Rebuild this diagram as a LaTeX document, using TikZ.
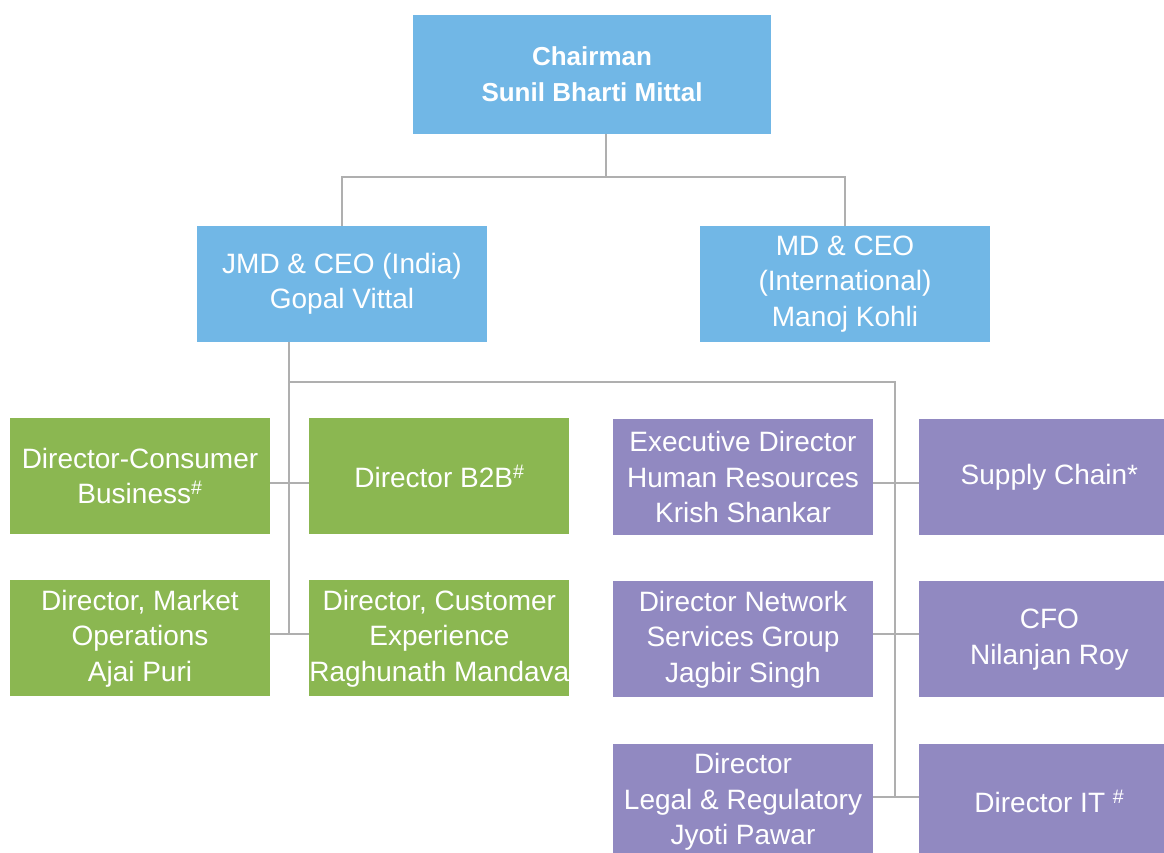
\documentclass[tikz,border=0pt]{standalone}
\usepackage{fontspec}
\setmainfont{Liberation Sans}
\usetikzlibrary{positioning}
\definecolor{topblue}{HTML}{71B7E6}
\definecolor{leafgreen}{HTML}{8BB751}
\definecolor{leafpurple}{HTML}{9189C1}
\definecolor{linkgray}{HTML}{AFAFAF}

\tikzset{
    box/.style={rectangle, inner xsep=0pt, inner ysep=2pt, align=center, text=white,
        font=\fontsize{28}{35.5}\selectfont},
    headbox/.style={box, fill=topblue, minimum width=290pt, minimum height=116pt},
    greenbox/.style={box, fill=leafgreen, minimum width=260pt, minimum height=116pt},
    purplebox/.style={box, fill=leafpurple, minimum width=260pt, minimum height=116pt},
    link/.style={draw=linkgray, line width=2pt}
}

\begin{document}
\begin{tikzpicture}[x=1pt,y=-1pt]
        \useasboundingbox (0,0) rectangle (1164,852);
        \clip (0,0) rectangle (1164,852);
        % top of the chart
        \node[headbox, minimum width=358pt, minimum height=119pt,
            font=\fontsize{26}{36}\selectfont\bfseries] (chair) at (592,74) {Chairman\\Sunil Bharti Mittal};
        \node[headbox] (jmd) at (342,284) {JMD \& CEO (India)\\Gopal Vittal};
        \node[headbox] (mdint) at (845,284) {MD \& CEO\\(International)\\Manoj Kohli};
        % green group
        \node[greenbox] (cons) at (140,476) {Director-Consumer\\Business\textsuperscript{\#}};
        \node[greenbox, right=39pt of cons] (btob) {Director B2B\textsuperscript{\#}};
        \node[greenbox, below=46pt of cons] (mktops) {Director, Market\\Operations\\Ajai Puri};
        \node[greenbox, right=39pt of mktops] (custexp) {Director, Customer\\Experience\\Raghunath Mandava};
        % purple group
        \node[purplebox] (hr) at (743,477) {Executive Director\\Human Resources\\Krish Shankar};
        \node[purplebox, right=46pt of hr] (supply) {Supply Chain*};
        \node[purplebox, below=46pt of hr] (nsg) {Director Network\\Services Group\\Jagbir Singh};
        \node[purplebox, right=46pt of nsg] (cfo) {CFO\\Nilanjan Roy};
        \node[purplebox, below=46pt of nsg] (legal) {Director\\Legal \& Regulatory\\Jyoti Pawar};
        \node[purplebox, right=46pt of legal] (dirit) {Director IT \textsuperscript{\#}};
        % branch points
        \coordinate (top) at (606,177);
        \coordinate (split) at (289,382);
        \coordinate (splitr) at (895,382);
        \coordinate (r1) at (0,483);
        \coordinate (r2) at (0,634);
        \coordinate (r3) at (0,797);
        % connectors
        \draw[link] (chair.south -| top) -- (top);
        \draw[link] (jmd.north) |- (top) -| (mdint.north);
        \draw[link] (jmd.south -| split) -- (split) -- (splitr) -- (splitr |- r3);
        \draw[link] (split) -- (split |- r2);
        \draw[link] (cons.east |- r1) -- (btob.west |- r1);
        \draw[link] (mktops.east |- r2) -- (custexp.west |- r2);
        \draw[link] (hr.east |- r1) -- (supply.west |- r1);
        \draw[link] (nsg.east |- r2) -- (cfo.west |- r2);
        \draw[link] (legal.east |- r3) -- (dirit.west |- r3);
    \end{tikzpicture}
\end{document}
